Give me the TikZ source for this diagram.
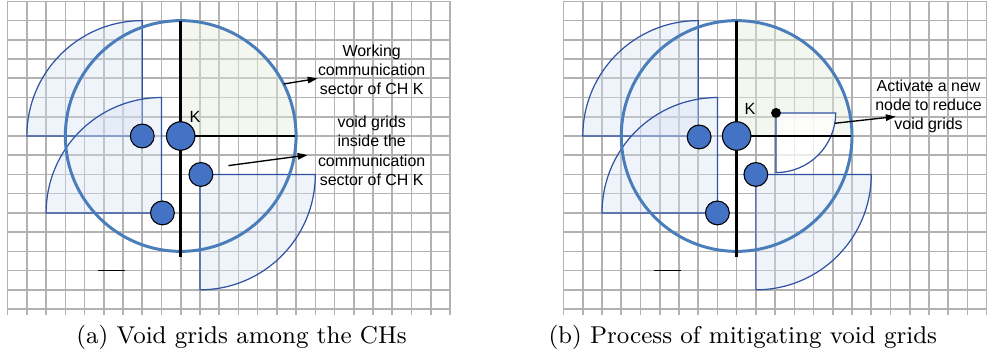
\documentclass[tikz,border=0pt]{standalone}
\usepackage{fontspec}
\newfontfamily\notefont{Liberation Sans}
\usepackage{tikz}
\usetikzlibrary{arrows.meta,positioning}
\definecolor{gridgray}{RGB}{178,178,178}
\definecolor{ringblue}{RGB}{74,126,187}
\definecolor{chblue}{RGB}{68,114,196}
\definecolor{secedge}{RGB}{47,82,163}
\definecolor{secfill}{RGB}{214,226,243}
\definecolor{workfill}{RGB}{228,238,220}

\begin{document}
\begin{tikzpicture}[x=0.25cm, y=0.25cm,
  gridline/.style={draw=gridgray, line width=0.6pt},
  ring/.style={draw=ringblue, line width=1.1pt},
  axis/.style={draw=black, line width=1pt},
  sector/.style={draw=secedge, line width=0.45pt, fill=secfill, fill opacity=0.38},
  newsector/.style={sector, fill=white, fill opacity=0.75},
  workzone/.style={fill=workfill, fill opacity=0.45},
  ch/.style={circle, draw=black, line width=0.4pt, fill=chblue,
             minimum size=3.1mm, inner sep=0pt},
  chk/.style={ch, minimum size=3.7mm},
  newch/.style={circle, fill=black, minimum size=1.3mm, inner sep=0pt},
  lbl/.style={font=\notefont\fontsize{6}{7}\selectfont, inner sep=0pt},
  note/.style={font=\notefont\fontsize{5.9}{7.1}\selectfont, align=center, inner sep=0pt},
  arr/.style={-{Triangle[length=3.6pt, width=2.4pt]}, line width=0.5pt},
  subcap/.style={font=\fontsize{9}{11}\selectfont, inner sep=0pt, anchor=base}]
\useasboundingbox (-9.397,-11.388) rectangle (42.71,7.072);
% ---- (a) void grids among the CHs ----
\draw[gridline, step=1] (-9,-9.3) grid (14,7);
\fill[workzone] (0,0) -- (6,0) arc[start angle=0, end angle=90, radius=6] -- cycle;
\filldraw[sector] (-2,0) -- (-2,6) arc[start angle=90, end angle=180, radius=6] -- cycle;
\filldraw[sector] (-1,-4) -- (-1,2) arc[start angle=90, end angle=180, radius=6] -- cycle;
\filldraw[sector] (1,-2) -- (7,-2) arc[start angle=0, end angle=-90, radius=6] -- cycle;
\draw[ring] (0,0) circle[radius=6];
\draw[axis] (0,6) -- (0,-6.3);
\draw[axis] (0,0) -- (5.95,0);
\draw[line width=0.4pt] (-4.3,-7) -- (-2.9,-7);
\node[chk] (ka) at (0,0) {};
\node[ch] (la) at (-2,0) {};
\node[ch] (ra) at (1.05,-2) {};
\node[ch] (ba) at (-0.95,-4) {};
\node[lbl] (ka-k) at (0.75,1) {K};
\node[note] (work-a) at (9.93,3.43) {Working\\communication\\sector of CH K};
\node[note] (void-a) at (9.93,-0.77) {void grids\\inside the\\communication\\sector of CH K};
\coordinate (work-from) at (26.8:6);
\coordinate (void-from) at (2.48,-1.54);
\draw[arr] (work-from) -- ([yshift=-1.1mm]work-a.west);
\draw[arr] (void-from) -- ([xshift=-1.3mm, yshift=-0.55mm]void-a.west);
\node[subcap] (cap-a) at (3.16,-10.8) {(a) Void grids among the CHs};
% ---- (b) process of mitigating void grids ----
\begin{scope}[shift={(28.91,0)}]
\draw[gridline, step=1] (-9,-9.3) grid (13,7);
\fill[workzone] (0,0) -- (6,0) arc[start angle=0, end angle=90, radius=6] -- cycle;
\filldraw[sector] (-2,0) -- (-2,6) arc[start angle=90, end angle=180, radius=6] -- cycle;
\filldraw[sector] (-1,-4) -- (-1,2) arc[start angle=90, end angle=180, radius=6] -- cycle;
\filldraw[sector] (1,-2) -- (7,-2) arc[start angle=0, end angle=-90, radius=6] -- cycle;
\filldraw[newsector] (2.05,1.2) -- (5.15,1.2) arc[start angle=0, end angle=-90, radius=3.1] -- cycle;
\draw[ring] (0,0) circle[radius=6];
\draw[axis] (0,6) -- (0,-6.3);
\draw[axis] (0,0) -- (5.95,0);
\draw[line width=0.4pt] (-4.3,-7) -- (-2.9,-7);
\node[chk] (kb) at (0,0) {};
\node[ch] (lb) at (-1.95,-0.05) {};
\node[ch] (rb) at (1,-2) {};
\node[ch] (bb) at (-1,-4) {};
\node[newch] (nb) at (2.05,1.2) {};
\node[lbl] (kb-k) at (0.69,1.39) {K};
\node[note] (act-b) at (9.98,1.53) {Activate a new\\node to reduce\\void grids};
\draw[arr] ([shift={(-10:3.1)}]nb.center) -- ([xshift=2.7mm, yshift=-1.3mm]act-b.west);
\node[subcap] (cap-b) at (0.32,-10.8) {(b) Process of mitigating void grids};
\end{scope}
\end{tikzpicture}
\end{document}
